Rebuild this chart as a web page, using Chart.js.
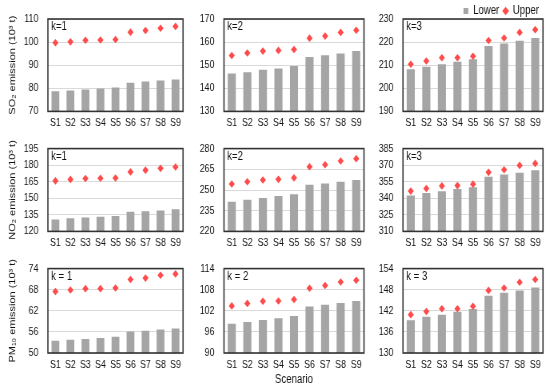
<!DOCTYPE html>
<html lang="en">
<head>
<meta charset="UTF-8">
<title>Emissions by scenario</title>
<script src="https://cdn.jsdelivr.net/npm/chart.js"></script>
<style>
  body { margin: 0; background: #fff; width: 550px; height: 390px; position: relative; overflow: hidden; }
  canvas { position: absolute; }
</style>
</head>
<body>
<script>
// categories
const scenarios = ['S1', 'S2', 'S3', 'S4', 'S5', 'S6', 'S7', 'S8', 'S9'];

// SO2
const so2K1Lower = [78.7, 79.0, 79.5, 79.9, 80.4, 82.4, 82.9, 83.4, 83.8];
const so2K1Upper = [99.7, 100.1, 100.8, 100.9, 101.1, 104.3, 105.0, 106.0, 106.8];
const so2K2Lower = [146.4, 147.0, 148.0, 148.6, 149.6, 153.6, 154.3, 155.1, 156.1];
const so2K2Upper = [154.2, 155.3, 156.1, 156.4, 156.8, 161.7, 162.6, 164.2, 165.1];
const so2K3Lower = [208.2, 209.3, 210.4, 211.5, 212.6, 218.3, 219.4, 220.6, 221.8];
const so2K3Upper = [210.4, 211.8, 213.2, 213.2, 213.9, 220.7, 221.8, 224.2, 225.4];
// NO2
const no2K1Lower = [130.8, 131.8, 132.6, 133.2, 133.9, 137.9, 138.2, 139.0, 140.0];
const no2K1Upper = [165.8, 167.1, 167.9, 168.2, 168.4, 173.9, 175.5, 177.1, 178.4];
const no2K2Lower = [241.5, 243.0, 244.2, 245.6, 246.9, 253.8, 254.8, 256.0, 257.3];
const no2K2Upper = [254.4, 256.0, 257.3, 257.7, 258.8, 266.9, 268.3, 271.0, 272.7];
const no2K3Lower = [342.6, 344.7, 346.3, 348.4, 349.9, 359.6, 361.6, 363.2, 365.3];
const no2K3Upper = [346.5, 348.9, 351.2, 351.5, 352.8, 363.5, 365.9, 369.8, 371.6];
// PM10
const pm10K1Lower = [53.5, 53.8, 54.0, 54.3, 54.6, 56.1, 56.3, 56.7, 57.0];
const pm10K1Upper = [67.5, 67.9, 68.3, 68.3, 68.5, 70.9, 71.3, 72.1, 72.5];
const pm10K2Lower = [98.3, 98.8, 99.4, 99.9, 100.5, 103.2, 103.7, 104.2, 104.8];
const pm10K2Upper = [103.4, 104.1, 104.7, 104.8, 105.2, 108.4, 109.2, 110.2, 110.7];
const pm10K3Lower = [139.3, 140.3, 140.9, 141.7, 142.5, 146.3, 147.1, 147.8, 148.6];
const pm10K3Upper = [140.9, 141.8, 142.6, 142.6, 143.3, 147.8, 148.5, 150.1, 150.9];

// y axis ranges [min, max, step]
const so2Ranges = [[70, 110, 10], [130, 170, 10], [190, 230, 10]];
const no2Ranges = [[120, 195, 15], [220, 280, 15], [310, 385, 15]];
const pm10Ranges = [[50, 74, 6], [90, 114, 6], [130, 154, 6]];

const rowTitles = ['SO₂ emission (10³ t)', 'NO₂ emission (10³ t)', 'PM₁₀ emission (10³ t)'];
const kLabels = [['k=1', 'k=2', 'k=3'], ['k=1', 'k=2', 'k=3'], ['k = 1', 'k = 2', 'k = 3']];
const seriesNames = ['Lower', 'Upper'];
const xTitle = 'Scenario';

const lowers = [[so2K1Lower, so2K2Lower, so2K3Lower], [no2K1Lower, no2K2Lower, no2K3Lower], [pm10K1Lower, pm10K2Lower, pm10K3Lower]];
const uppers = [[so2K1Upper, so2K2Upper, so2K3Upper], [no2K1Upper, no2K2Upper, no2K3Upper], [pm10K1Upper, pm10K2Upper, pm10K3Upper]];
const ranges = [so2Ranges, no2Ranges, pm10Ranges];

// the original figure is squeezed sideways, so each canvas is drawn wider and shown at 0.8 width
const sx = 0.8;
const colX = [0, 190, 370], colW = [190, 180, 180];
const rowY = [0, 130, 250], rowH = [130, 120, 140];
const yAxisW = [48, 34, 33], padRight = [7, 6, 7];
const padTop = [19, 8, 7], xAxisH = [16, 17, 37];

Chart.defaults.font.family = '"Liberation Sans", Arial, sans-serif';
Chart.defaults.color = '#111';

const framePlugin = {
  id: 'frame',
  afterDraw(chart, args, opts) {
    const { ctx, chartArea: a } = chart;
    ctx.save();
    ctx.strokeStyle = '#333';
    ctx.lineWidth = 1.6;
    ctx.strokeRect(a.left, a.top, a.right - a.left, a.bottom - a.top);
    ctx.fillStyle = '#111';
    ctx.font = opts.size + 'px "Liberation Sans", Arial, sans-serif';
    ctx.textBaseline = 'middle';
    ctx.fillText(opts.text, a.left + 4, a.top + 8);
    ctx.restore();
  }
};

const red = '#ff4b4b';

for (let r = 0; r < 3; r++) {
  for (let c = 0; c < 3; c++) {
    const cv = document.createElement('canvas');
    cv.width = Math.round(colW[c] / sx);
    cv.height = rowH[r];
    cv.style.left = colX[c] + 'px';
    cv.style.top = rowY[r] + 'px';
    cv.style.width = colW[c] + 'px';
    cv.style.height = rowH[r] + 'px';
    document.body.appendChild(cv);

    const withLegend = (r === 0 && c === 2);
    const [yMin, yMax, yStep] = ranges[r][c];

    new Chart(cv, {
      type: 'bar',
      data: {
        labels: scenarios,
        datasets: [
          {
            label: seriesNames[0],
            data: lowers[r][c],
            backgroundColor: '#a5a5a5',
            pointStyle: 'rect',
            barPercentage: 0.52,
            categoryPercentage: 1,
            order: 1
          },
          {
            type: 'line',
            label: seriesNames[1],
            data: uppers[r][c],
            showLine: false,
            pointStyle: 'rectRot',
            pointRadius: 3.8,
            pointBorderWidth: 0,
            pointBackgroundColor: red,
            backgroundColor: red,
            borderColor: red,
            borderWidth: 0,
            order: 0
          }
        ]
      },
      options: {
        responsive: false,
        animation: false,
        layout: { padding: { left: 0, right: padRight[c] / sx, top: withLegend ? 0 : padTop[r], bottom: 0 } },
        plugins: {
          legend: {
            display: withLegend,
            align: 'end',
            maxHeight: padTop[r],
            labels: {
              usePointStyle: true,
              boxWidth: 6,
              boxHeight: 6,
              padding: 5,
              font: { size: 12 },
              color: '#111',
              sort: (a, b) => a.datasetIndex - b.datasetIndex
            }
          },
          tooltip: { enabled: false },
          frame: { text: kLabels[r][c], size: 12 }
        },
        scales: {
          x: {
            grid: { display: false, drawTicks: false },
            border: { display: false },
            ticks: { font: { size: 11 }, padding: 5, maxRotation: 0, autoSkip: false, color: '#111' },
            title: { display: r === 2 && c === 1, text: xTitle, font: { size: 12 }, padding: { top: 0, bottom: 3 }, color: '#111' },
            afterFit: s => { s.height = xAxisH[r]; }
          },
          y: {
            min: yMin,
            max: yMax,
            ticks: { stepSize: yStep, font: { size: 11 }, padding: 12, color: '#111' },
            grid: { color: '#d9d9d9', drawTicks: false, lineWidth: 1 },
            border: { display: false },
            title: { display: c === 0, text: rowTitles[r], font: { size: 11 }, padding: { top: 9, bottom: 0 }, color: '#111' },
            afterFit: s => { s.width = yAxisW[c] / sx; }
          }
        }
      },
      plugins: [framePlugin]
    });
  }
}
</script>
</body>
</html>
